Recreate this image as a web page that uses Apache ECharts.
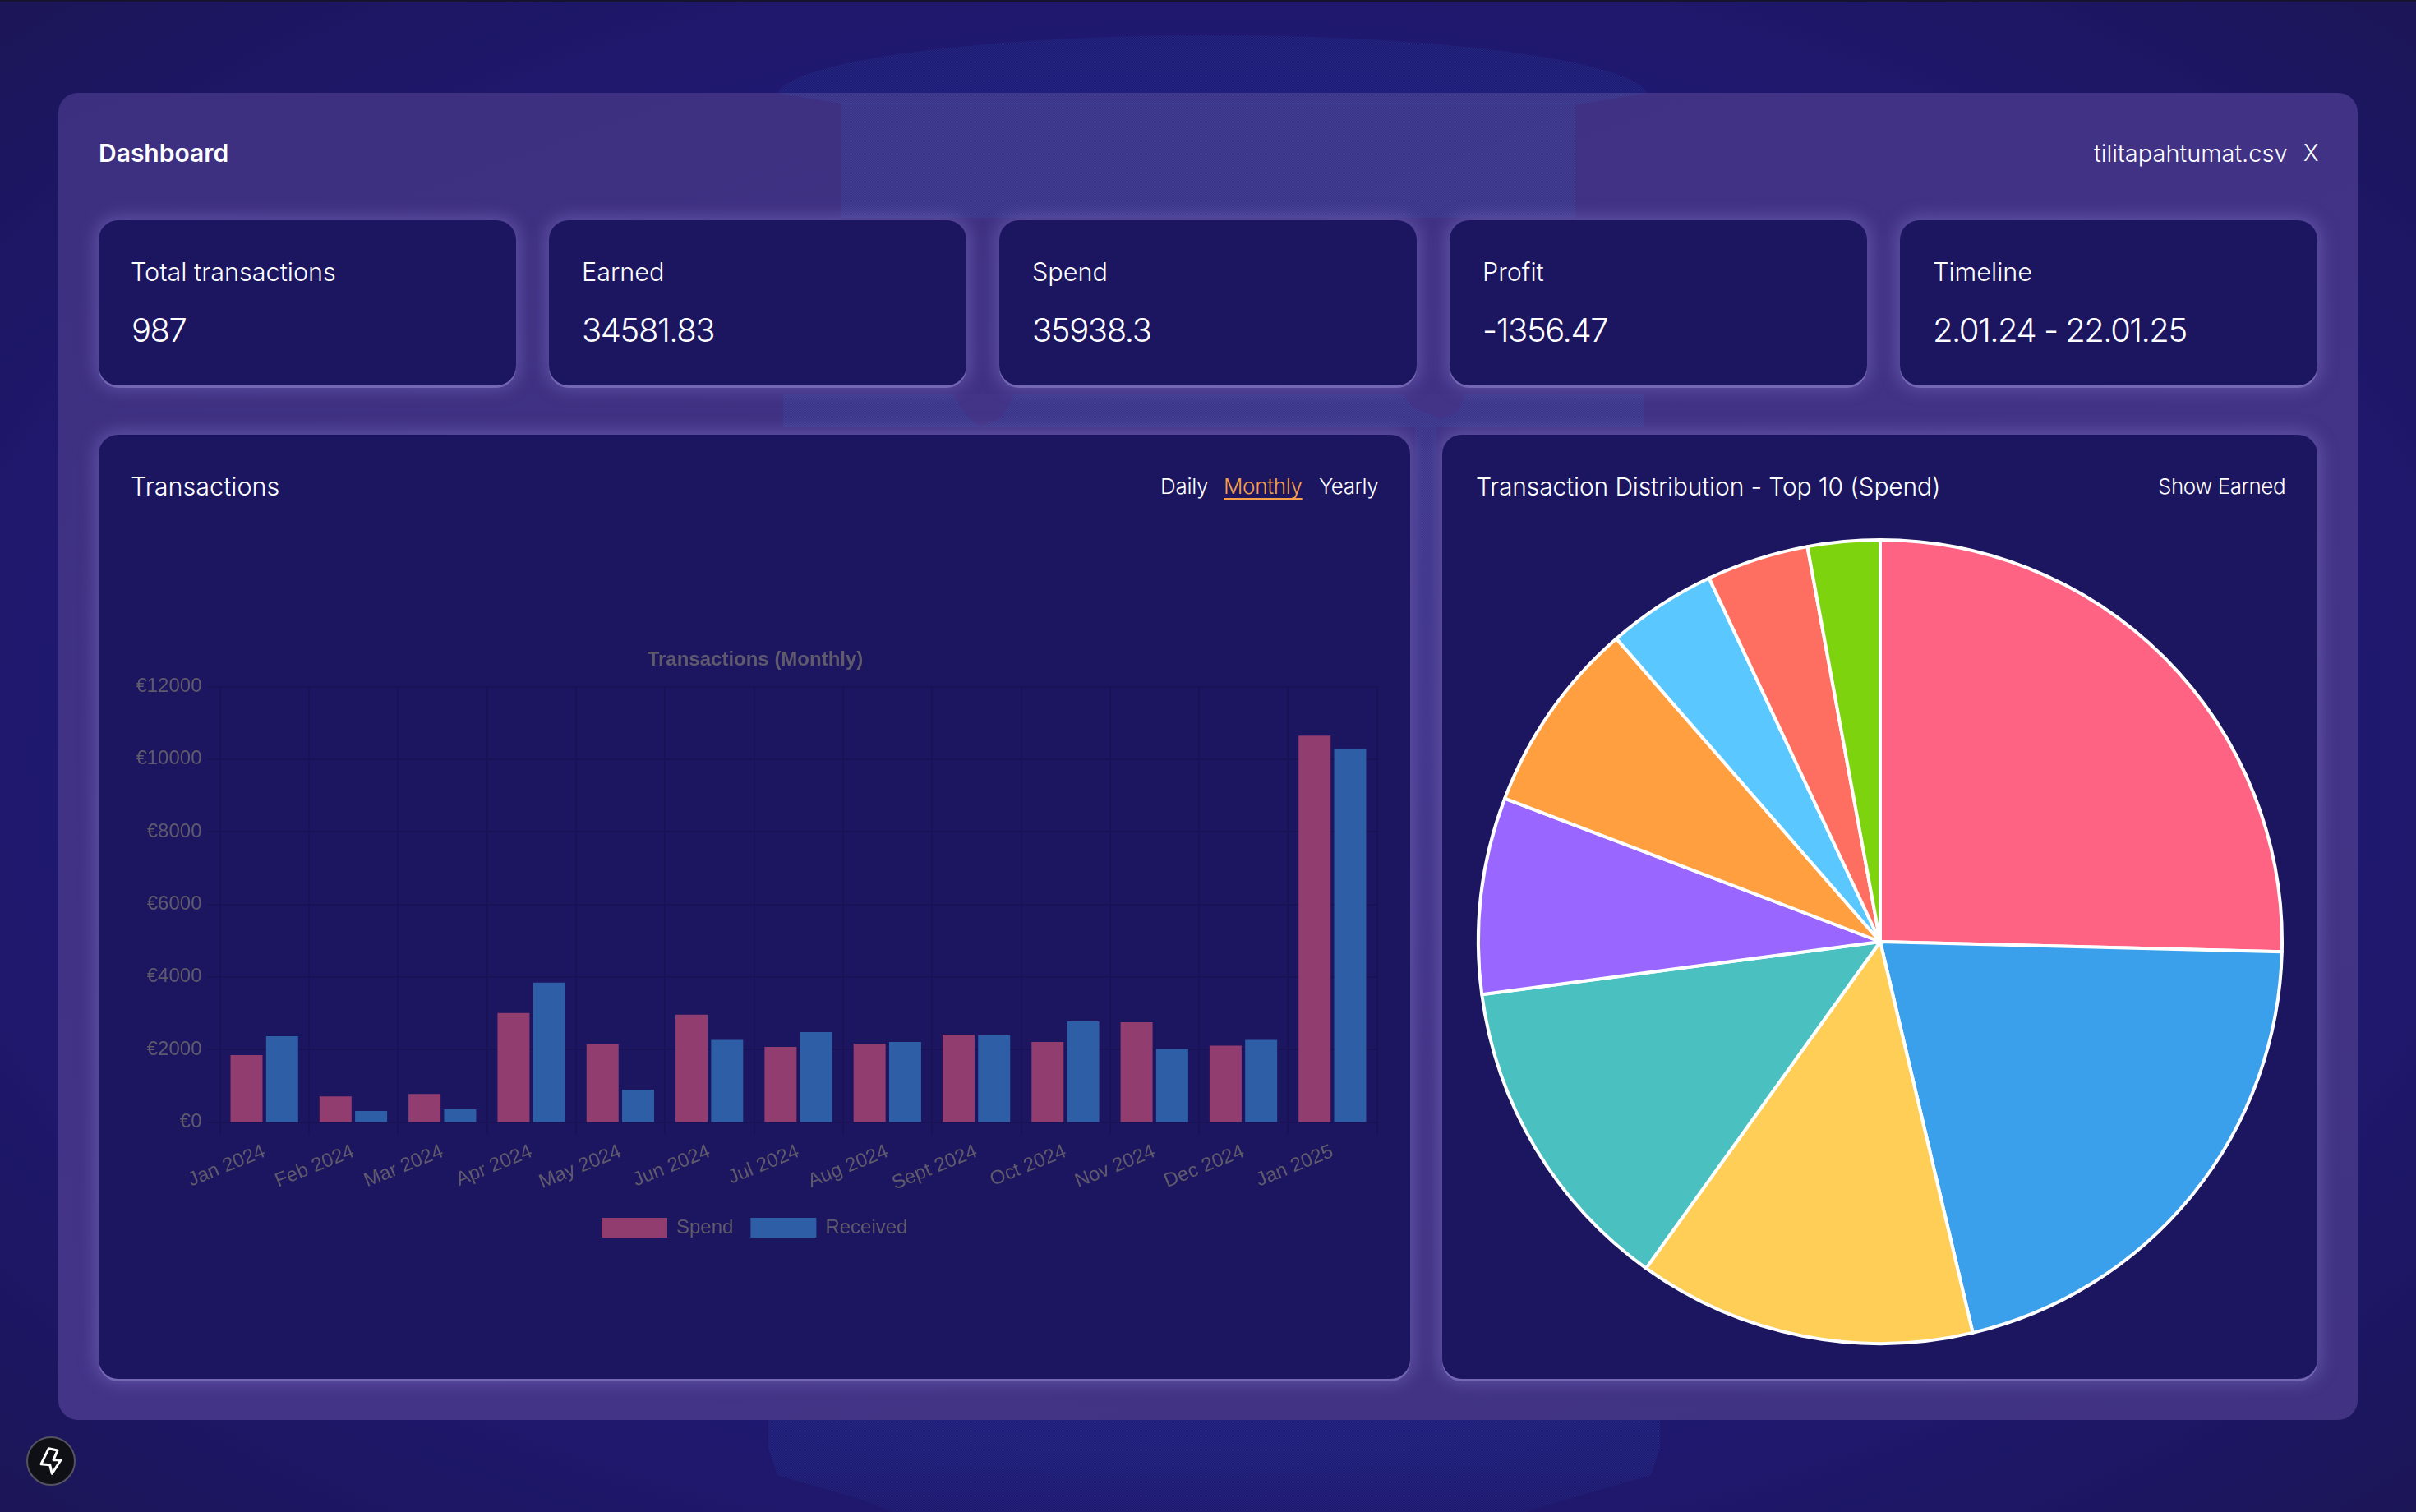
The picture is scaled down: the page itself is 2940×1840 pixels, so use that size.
<!DOCTYPE html>
<html><head><meta charset="utf-8">
<script src="https://cdn.jsdelivr.net/npm/echarts@6/dist/echarts.min.js"></script>
<style>
html,body{margin:0;padding:0;width:2940px;height:1840px;overflow:hidden;font-family:Inter,"Noto Sans",sans-serif;color:#fff}
body{background:radial-gradient(ellipse 75% 75% at 50% 50%,#221a7a 0%,#211976 55%,#1c1660 85%,#1b1650 100%);position:relative;border-top:2px solid #16132f;box-sizing:border-box}
.st{position:absolute;background-image:repeating-conic-gradient(var(--c) 0 25%,transparent 0 50%);background-size:2px 2px}
#panel{position:absolute;left:71px;top:111px;width:2798px;height:1615px;border-radius:24px;background:linear-gradient(160deg,#3d2f80,#433488 60%,#413382)}
.card{position:absolute;background:#1c1560;border-radius:24px;box-shadow:0 3px 0 rgba(150,140,210,.5),0 0 20px 5px rgba(125,112,195,.48)}
.t{position:absolute;white-space:nowrap;line-height:1;font-weight:300}
#chart{position:absolute;left:0;top:-2px;width:2940px;height:1840px}
</style></head><body>
<div class="st" style="--c:#263a9a;opacity:.45;left:945px;top:41px;width:1060px;height:75px;border-radius:50% 50% 0 0/100% 100% 0 0"></div>
<div class="st" style="--c:#263a9a;opacity:.5;left:935px;top:1726px;width:1085px;height:112px;clip-path:polygon(0 0,100% 0,100% 30%,99% 60%,90% 85%,85% 100%,14% 100%,10% 85%,1% 60%,0 30%);-webkit-mask-image:linear-gradient(#000 40%,rgba(0,0,0,.5))"></div>
<div id="panel"></div>
<div class="st" style="--c:#3a4ba2;opacity:.55;left:1024px;top:111px;width:893px;height:152px;clip-path:polygon(0 8%,100% 8%,100% 100%,0 100%)"></div>
<div class="st" style="--c:#3a4ba2;opacity:.55;left:945px;top:111px;width:1060px;height:14px;clip-path:polygon(0 0,100% 0,92% 100%,8% 100%)"></div>
<div class="st" style="--c:#3a4ba2;opacity:.6;left:953px;top:478px;width:1047px;height:40px"></div>
<div style="position:absolute;left:1160px;top:478px;width:74px;height:40px;background:#433488;clip-path:polygon(0 0,100% 0,80% 70%,45% 100%,20% 60%)"></div>
<div style="position:absolute;left:1708px;top:478px;width:74px;height:30px;background:#433488;clip-path:polygon(0 0,100% 0,90% 70%,60% 100%,15% 50%)"></div>
<div class="st" style="--c:#3a4ba2;opacity:.5;left:1722px;top:515px;width:26px;height:800px;-webkit-mask-image:linear-gradient(#000,rgba(0,0,0,0))"></div>
<div class="card" style="left:120px;top:266px;width:508px;height:201px"></div>
<div class="card" style="left:668px;top:266px;width:508px;height:201px"></div>
<div class="card" style="left:1216px;top:266px;width:508px;height:201px"></div>
<div class="card" style="left:1764px;top:266px;width:508px;height:201px"></div>
<div class="card" style="left:2312px;top:266px;width:508px;height:201px"></div>
<div class="card" style="left:120px;top:527px;width:1596px;height:1149px"></div>
<div class="card" style="left:1755px;top:527px;width:1065px;height:1149px"></div>
<div class="t" style="left:120px;top:169px;font-size:30px;font-weight:600">Dashboard</div>
<div class="t" style="left:2548px;top:170px;font-size:29px">tilitapahtumat.csv</div>
<div class="t" style="left:2803px;top:170px;font-size:28px">X</div>
<div class="t" style="left:159px;top:314px;font-size:30.6px">Total transactions</div>
<div class="t" style="left:160px;top:380px;font-size:40px;letter-spacing:-1.5px">987</div>
<div class="t" style="left:708px;top:314px;font-size:30.6px">Earned</div>
<div class="t" style="left:708px;top:380px;font-size:40px;letter-spacing:-1.4px">34581.83</div>
<div class="t" style="left:1256px;top:314px;font-size:30.6px">Spend</div>
<div class="t" style="left:1256px;top:380px;font-size:40px;letter-spacing:-1.4px">35938.3</div>
<div class="t" style="left:1804px;top:314px;font-size:30.6px">Profit</div>
<div class="t" style="left:1804px;top:380px;font-size:40px;letter-spacing:-1.4px">-1356.47</div>
<div class="t" style="left:2352px;top:314px;font-size:30.6px">Timeline</div>
<div class="t" style="left:2352px;top:380px;font-size:40px;letter-spacing:-1.5px">2.01.24 - 22.01.25</div>
<div class="t" style="left:159px;top:575px;font-size:30.6px">Transactions</div>
<div class="t" style="left:1412px;top:577px;font-size:26px;letter-spacing:-.3px">Daily</div>
<div class="t" style="left:1489px;top:577px;font-size:26px;letter-spacing:-.3px;color:#f5a04a;text-decoration:underline;text-decoration-thickness:2px;text-underline-offset:5px">Monthly</div>
<div class="t" style="left:1605px;top:577px;font-size:26px;letter-spacing:-.5px">Yearly</div>
<div class="t" style="left:1796px;top:575px;font-size:30px;letter-spacing:-.12px">Transaction Distribution - Top 10 (Spend)</div>
<div class="t" style="left:2626px;top:577px;font-size:26px;letter-spacing:-.5px">Show Earned</div>
<div id="chart"></div>
<svg style="position:absolute;left:32px;top:1746px" width="60" height="60" viewBox="0 0 60 60"><circle cx="30" cy="30" r="29" fill="#0f0f16" stroke="#55535f" stroke-width="2"/><path d="M27.3 14.7 L38 17 L33 28.7 H42 L31.3 45.3 L28.7 34.7 L18 33.7 Z" fill="none" stroke="#fff" stroke-width="3" stroke-linejoin="round"/></svg>
<script>
const months=['Jan 2024','Feb 2024','Mar 2024','Apr 2024','May 2024','Jun 2024','Jul 2024','Aug 2024','Sept 2024','Oct 2024','Nov 2024','Dec 2024','Jan 2025'];
const spend=[1848,710,777,3008,2152,2963,2073,2163,2411,2208,2749,2107,10648];
const received=[2366,304,349,3842,890,2265,2479,2208,2389,2772,2017,2265,10276];
const shares=[25.4,20.9,13.6,13.0,7.9,7.8,4.4,4.1,2.9];
const shareColors=['#FF6384','#3AA0EB','#FFCE56','#4BC0C0','#9966FF','#FF9F40','#5AC8FF','#FF6F61','#7ED30F'];
const grey='#5f5a6c', gridC='#191256';
const chart=echarts.init(document.getElementById('chart'),null,{width:2940,height:1840});
chart.setOption({
  animation:false,
  backgroundColor:'transparent',
  title:{text:'Transactions (Monthly)',left:914,top:786,textAlign:'center',textStyle:{color:grey,fontFamily:'Liberation Sans',fontSize:24,fontWeight:'bold'}},
  legend:{left:727,top:1477,itemWidth:80,itemHeight:24,itemGap:21,icon:'rect',data:['Spend','Received'],textStyle:{color:grey,fontFamily:'Liberation Sans',fontSize:24,padding:[2,0,0,6]}},
  grid:{left:267.5,top:835.5,width:1408,height:530,containLabel:false},
  xAxis:{type:'category',data:months,boundaryGap:true,
    axisLine:{show:true,lineStyle:{color:gridC,width:2}},
    axisTick:{show:true,length:15,lineStyle:{color:gridC,width:2}},
    splitLine:{show:true,lineStyle:{color:gridC,width:2}},
    axisLabel:{rotate:22,margin:35,color:grey,fontFamily:'Liberation Sans',fontSize:24,interval:0}},
  yAxis:{type:'value',min:0,max:12000,interval:2000,
    axisLine:{show:true,lineStyle:{color:gridC,width:2}},
    axisTick:{show:true,length:15,lineStyle:{color:gridC,width:2}},
    splitLine:{show:true,lineStyle:{color:gridC,width:2}},
    axisLabel:{margin:22,color:grey,fontFamily:'Liberation Sans',fontSize:24,lineHeight:28,padding:[5,0,0,0],formatter:v=>'€'+v}},
  series:[
    {name:'Spend',type:'bar',data:spend,barWidth:39,barGap:'11%',itemStyle:{color:'#913d70'},z:3},
    {name:'Received',type:'bar',data:received,barWidth:39,itemStyle:{color:'#2e5ea6'},z:3},
    {type:'pie',center:[2288,1146],radius:[0,489],startAngle:90,clockwise:true,label:{show:false},labelLine:{show:false},silent:true,
      data:shares.map((v,i)=>({value:v,name:'s'+i,itemStyle:{color:shareColors[i],borderColor:'#ffffff',borderWidth:4}}))}
  ]
});
</script>
</body></html>
